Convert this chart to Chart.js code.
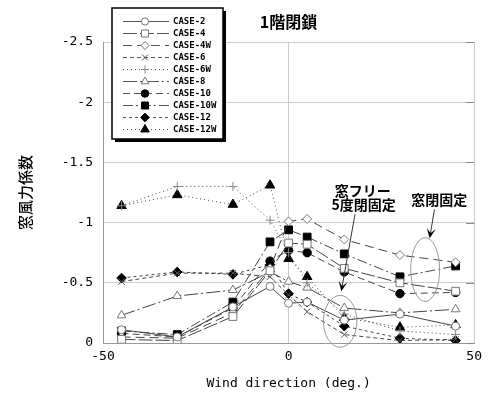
<!DOCTYPE html>
<html>
<head>
<meta charset="utf-8">
<script src="https://cdn.jsdelivr.net/npm/chart.js@4/dist/chart.umd.min.js"></script>
<style>
html,body{margin:0;padding:0;background:#fff;}
#wrap{width:488px;height:399px;}
</style>
</head>
<body>
<div id="wrap"><canvas id="c" width="488" height="399"></canvas></div>
<script>
// ---- data ----
const windDirections = [-45, -30, -15, -5, 0, 5, 15, 30, 45];
const caseNames = ['CASE-2','CASE-4','CASE-4W','CASE-6','CASE-6W','CASE-8','CASE-10','CASE-10W','CASE-12','CASE-12W'];
const case2   = [-0.11, -0.05, -0.30, -0.47, -0.33, -0.34, -0.19, -0.24, -0.14];
const case4   = [-0.03, -0.02, -0.22, -0.60, -0.83, -0.82, -0.62, -0.50, -0.43];
const case4W  = [-0.05, -0.04, -0.25, -0.62, -1.01, -1.03, -0.86, -0.73, -0.67];
const case6   = [-0.51, -0.58, -0.58, -0.55, -0.40, -0.26, -0.07, -0.02, -0.03];
const case6W  = [-1.14, -1.30, -1.30, -1.02, -0.75, -0.50, -0.24, -0.10, -0.07];
const case8   = [-0.23, -0.39, -0.44, -0.59, -0.51, -0.46, -0.29, -0.25, -0.28];
const case10  = [-0.08, -0.05, -0.29, -0.68, -0.77, -0.75, -0.59, -0.41, -0.42];
const case10W = [-0.10, -0.07, -0.34, -0.84, -0.94, -0.88, -0.74, -0.55, -0.64];
const case12  = [-0.54, -0.59, -0.57, -0.65, -0.41, -0.34, -0.14, -0.04, -0.02];
const case12W = [-1.14, -1.23, -1.15, -1.31, -0.70, -0.55, -0.21, -0.13, -0.15];
const yTickValues = [-2.5, -2, -1.5, -1, -0.5, 0];
const yTickLabels = ['-2.5', '-2', '-1.5', '-1', '-0.5', '0'];
const xTickValues = [-50, 0, 50];
const xTickLabels = ['-50', '0', '50'];
const chartTitle = '1階閉鎖';
const yAxisTitle = '窓風力係数';
const xAxisTitle = 'Wind direction (deg.)';
const note1 = ['窓フリー', '5度閉固定'];
const note2 = '窓閉固定';

// ---- styles ----
const seriesValues = [case2, case4, case4W, case6, case6W, case8, case10, case10W, case12, case12W];
const styles = [
  {ps:'circle',   r:4,   fill:'#fff', stroke:'#777', dash:[]},
  {ps:'rect',     r:5.5, fill:'#fff', stroke:'#777', dash:[14,3]},
  {ps:'rectRot',  r:4.5, fill:'#fff', stroke:'#777', dash:[9,5]},
  {ps:'crossRot', r:4.5, fill:'#fff', stroke:'#555', dash:[4,3]},
  {ps:'cross',    r:4.5, fill:'#fff', stroke:'#888', dash:[1,3]},
  {ps:'triangle', r:5,   fill:'#fff', stroke:'#777', dash:[14,3,2,3]},
  {ps:'circle',   r:4.2, fill:'#000', stroke:'#000', dash:[7,4]},
  {ps:'rect',     r:5.5, fill:'#000', stroke:'#000', dash:[10,3,2,3]},
  {ps:'rectRot',  r:4.8, fill:'#000', stroke:'#000', dash:[3,3]},
  {ps:'triangle', r:5.5, fill:'#000', stroke:'#000', dash:[1,3]}
];

const datasets = caseNames.map((name, i) => ({
  label: name,
  data: windDirections.map((x, j) => ({x: x, y: seriesValues[i][j]})),
  borderColor: '#444',
  borderWidth: 1,
  borderDash: styles[i].dash,
  pointStyle: styles[i].ps,
  pointRadius: styles[i].r,
  pointBackgroundColor: styles[i].fill,
  pointBorderColor: styles[i].stroke,
  pointBorderWidth: 1,
  showLine: true,
  fill: false,
  tension: 0
}));

const tickFont = {family: 'DejaVu Sans Mono', size: 13};

function arrow(ctx, x1, y1, x2, y2) {
  const ang = Math.atan2(y2 - y1, x2 - x1);
  const len = 10, w = 4.5, notch = 5;
  const bx = x2 - Math.cos(ang) * len, by = y2 - Math.sin(ang) * len;
  const nx = x2 - Math.cos(ang) * notch, ny = y2 - Math.sin(ang) * notch;
  ctx.save();
  ctx.strokeStyle = '#333'; ctx.lineWidth = 1; ctx.setLineDash([]);
  ctx.beginPath(); ctx.moveTo(x1, y1); ctx.lineTo(nx, ny); ctx.stroke();
  ctx.fillStyle = '#000';
  ctx.beginPath();
  ctx.moveTo(x2, y2);
  ctx.lineTo(bx - Math.sin(ang) * w, by + Math.cos(ang) * w);
  ctx.lineTo(nx, ny);
  ctx.lineTo(bx + Math.sin(ang) * w, by - Math.cos(ang) * w);
  ctx.closePath(); ctx.fill();
  ctx.restore();
}

const decor = {
  id: 'decor',
  afterDatasetsDraw(chart) {
    const ctx = chart.ctx;
    const xs = chart.scales.x, ys = chart.scales.y;
    const X = v => xs.getPixelForValue(v), Y = v => ys.getPixelForValue(v);
    const area = chart.chartArea;
    ctx.save();
    // small inner ticks on right edge
    ctx.strokeStyle = '#888'; ctx.lineWidth = 1;
    yTickValues.forEach(v => {
      const py = Math.round(Y(v)) + 0.5;
      ctx.beginPath(); ctx.moveTo(area.right - 8, py); ctx.lineTo(area.right, py); ctx.stroke();
    });
    // title
    ctx.fillStyle = '#000';
    ctx.font = 'bold 16px "Noto Sans CJK JP"';
    ctx.textAlign = 'center'; ctx.textBaseline = 'middle';
    ctx.fillText(chartTitle, X(0), area.top - 20);
    // ellipses
    ctx.strokeStyle = '#999'; ctx.lineWidth = 1;
    ctx.beginPath();
    ctx.ellipse(X(13.9), Y(-0.18), X(13.9 + 4.5) - X(13.9), Y(-0.18) - Y(-0.395), 0, 0, Math.PI * 2);
    ctx.stroke();
    ctx.beginPath();
    ctx.ellipse(X(36.8), Y(-0.61), X(36.8 + 3.9) - X(36.8), Y(-0.61) - Y(-0.875), 0, 0, Math.PI * 2);
    ctx.stroke();
    // annotation texts
    ctx.fillStyle = '#000';
    ctx.font = 'bold 14px "Noto Sans CJK JP"';
    ctx.fillText(note1[0], X(20), Y(-1.265));
    ctx.fillText(note1[1], X(20.2), Y(-1.15));
    ctx.fillText(note2, X(40.6), Y(-1.19));
    // arrows
    arrow(ctx, X(17.9), Y(-1.07), X(14.2), Y(-0.43));
    arrow(ctx, X(39.3), Y(-1.11), X(38.0), Y(-0.87));
    ctx.restore();

    // legend box
    const lx = 112, ly = 8, lw = 111, lh = 131;
    ctx.save();
    ctx.fillStyle = '#000';
    ctx.fillRect(lx + 3, ly + 3, lw, lh);
    ctx.fillStyle = '#fff';
    ctx.fillRect(lx, ly, lw, lh);
    ctx.strokeStyle = '#000'; ctx.lineWidth = 1.5;
    ctx.strokeRect(lx, ly, lw, lh);
    chart.data.datasets.forEach((ds, i) => {
      const yy = ly + 13 + i * 12;
      ctx.strokeStyle = '#555'; ctx.lineWidth = 1;
      ctx.setLineDash(ds.borderDash || []);
      ctx.beginPath(); ctx.moveTo(lx + 11, yy + 0.5); ctx.lineTo(lx + 57, yy + 0.5); ctx.stroke();
      ctx.setLineDash([]);
      ctx.fillStyle = ds.pointBackgroundColor;
      ctx.strokeStyle = ds.pointBorderColor;
      ctx.lineWidth = 1;
      Chart.helpers.drawPoint(ctx, {
        pointStyle: ds.pointStyle, radius: ds.pointRadius * 0.9, rotation: 0, borderWidth: 1
      }, lx + 33, yy + 0.5);
      ctx.fillStyle = '#000';
      ctx.font = 'bold 9px "DejaVu Sans Mono"';
      ctx.textAlign = 'left'; ctx.textBaseline = 'middle';
      ctx.fillText(ds.label, lx + 61, yy + 1);
    });
    ctx.restore();
  }
};

new Chart(document.getElementById('c'), {
  type: 'scatter',
  data: {datasets: datasets},
  options: {
    responsive: false,
    animation: false,
    layout: {padding: {top: 42, right: 11, left: 0, bottom: 0}},
    plugins: {legend: {display: false}, title: {display: false}, tooltip: {enabled: false}},
    scales: {
      x: {
        type: 'linear', min: -50, max: 50,
        afterFit(s) { s.height = 56; },
        afterBuildTicks(s) { s.ticks = xTickValues.map(v => ({value: v})); },
        ticks: {
          font: tickFont, color: '#000', padding: 6, maxRotation: 0,
          callback: (v) => xTickLabels[xTickValues.indexOf(v)]
        },
        grid: {color: '#ccc', lineWidth: 1, drawTicks: false},
        border: {color: '#999'},
        title: {display: true, text: xAxisTitle, color: '#000',
          font: {family: 'DejaVu Sans Mono', size: 13}, padding: {top: 0, bottom: 8}}
      },
      y: {
        type: 'linear', min: -2.5, max: 0, reverse: true,
        afterFit(s) { s.width = 103; },
        afterBuildTicks(s) { s.ticks = yTickValues.map(v => ({value: v})); },
        ticks: {
          font: tickFont, color: '#000', padding: 10,
          callback: (v) => yTickLabels[yTickValues.indexOf(v)]
        },
        grid: {color: '#ccc', lineWidth: 1, drawTicks: false},
        border: {color: '#999'},
        title: {display: true, text: yAxisTitle, color: '#000',
          font: {family: 'Noto Sans CJK JP', size: 15, weight: '500'}, padding: {top: 16, bottom: 0}}
      }
    }
  },
  plugins: [decor]
});
</script>
</body>
</html>
